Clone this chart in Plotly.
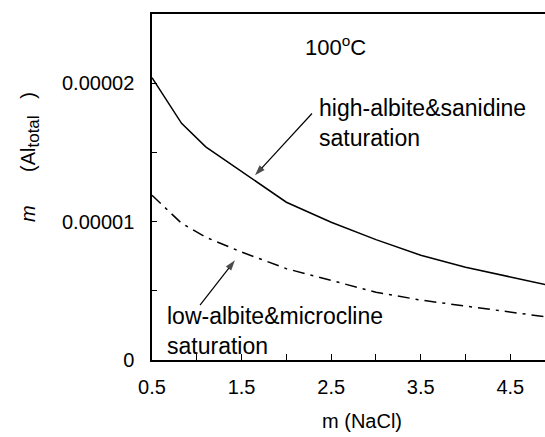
import plotly.graph_objects as go

# data
nacl = [0.5, 0.83, 1.1, 1.5, 2.0, 2.5, 3.0, 3.5, 4.0, 4.5, 5.0]
al_high = [20.4e-6, 17.1e-6, 15.4e-6, 13.6e-6, 11.4e-6, 9.95e-6, 8.7e-6, 7.57e-6, 6.7e-6, 6.0e-6, 5.3e-6]
al_low = [11.9e-6, 9.88e-6, 8.87e-6, 7.8e-6, 6.6e-6, 5.77e-6, 4.9e-6, 4.33e-6, 3.9e-6, 3.46e-6, 3.03e-6]

x_ticks = [0.5, 1.5, 2.5, 3.5, 4.5]
x_tick_text = ["0.5", "1.5", "2.5", "3.5", "4.5"]
y_ticks = [0, 1e-5, 2e-5]
y_tick_text = ["0", "0.00001", "0.00002"]

# arrow pointers (tail -> tip) in data units
arrow_high_x = [2.286, 1.65]
arrow_high_y = [1.781e-5, 1.334e-5]
arrow_low_x = [1.036, 1.426]
arrow_low_y = [0.397e-5, 0.721e-5]

FONT = "Liberation Sans, Arial, sans-serif"

fig = go.Figure()
fig.add_trace(go.Scatter(x=nacl, y=al_high, mode="lines",
                         line=dict(color="black", width=1.5), showlegend=False))
fig.add_trace(go.Scatter(x=nacl, y=al_low, mode="lines",
                         line=dict(color="black", width=1.5, dash="12px,6px,3px,6px"),
                         showlegend=False))
for ax_, ay_ in [(arrow_high_x, arrow_high_y), (arrow_low_x, arrow_low_y)]:
    fig.add_trace(go.Scatter(
        x=ax_, y=ay_, mode="lines+markers",
        line=dict(color="black", width=1.2),
        marker=dict(symbol="arrow", size=[0, 11], angleref="previous",
                    color="black", line=dict(width=0)),
        showlegend=False, hoverinfo="skip"))

fig.update_layout(
    width=545, height=437,
    margin=dict(l=152, r=0, t=14, b=77),
    paper_bgcolor="white", plot_bgcolor="white",
    font=dict(family=FONT, color="black", size=20),
    showlegend=False,
)
fig.update_xaxes(
    range=[0.5, 4.887], showgrid=False, zeroline=False,
    showline=True, linecolor="black", linewidth=1.5, mirror=True,
    ticks="inside", ticklen=6, tickwidth=1.2, tickcolor="black",
    tickvals=x_ticks, ticktext=x_tick_text, ticklabelstandoff=8,
    tickfont=dict(size=20),
    minor=dict(dtick=0.5, tick0=0.5, ticks="inside", ticklen=6, tickwidth=1.2,
               tickcolor="black", showgrid=False),
)
fig.update_yaxes(
    range=[0, 2.5e-5], showgrid=False, zeroline=False,
    showline=True, linecolor="black", linewidth=1.5, mirror=False,
    ticks="inside", ticklen=5, tickwidth=1.2, tickcolor="black",
    tickvals=y_ticks, ticktext=y_tick_text, ticklabelstandoff=12,
    tickfont=dict(size=20),
    minor=dict(dtick=5e-6, tick0=0, ticks="inside", ticklen=5, tickwidth=1.2,
               tickcolor="black", showgrid=False),
)

fig.add_annotation(x=2.185, y=2.271e-5, xref="x", yref="y", showarrow=False,
                   text="100<sup>o</sup>C", xanchor="left", yanchor="middle",
                   font=dict(size=22))
fig.add_annotation(x=2.34, y=1.716e-5, xref="x", yref="y", showarrow=False,
                   text="high-albite&sanidine<br>saturation", align="left",
                   xanchor="left", yanchor="middle", font=dict(size=23))
fig.add_annotation(x=0.645, y=0.209e-5, xref="x", yref="y", showarrow=False,
                   text="low-albite&microcline<br>saturation", align="left",
                   xanchor="left", yanchor="middle", font=dict(size=23))
fig.add_annotation(x=(362 - 152) / 393, y=-(421 - 360) / 346, xref="paper", yref="paper",
                   showarrow=False, text="m (NaCl)", xanchor="center", yanchor="middle",
                   font=dict(size=20))
fig.add_annotation(x=(30 - 152) / 393, y=(360 - 157) / 346, xref="paper", yref="paper",
                   showarrow=False,
                   text=("<i>m</i>&nbsp;&nbsp;&nbsp;&nbsp;&nbsp;&nbsp;(Al<sub>"
                         "<span style='font-size:17px'>total</span></sub>&nbsp;&nbsp;&nbsp;)"),
                   textangle=-90, xanchor="center", yanchor="middle",
                   font=dict(size=20))

fig.write_html("out.html")
